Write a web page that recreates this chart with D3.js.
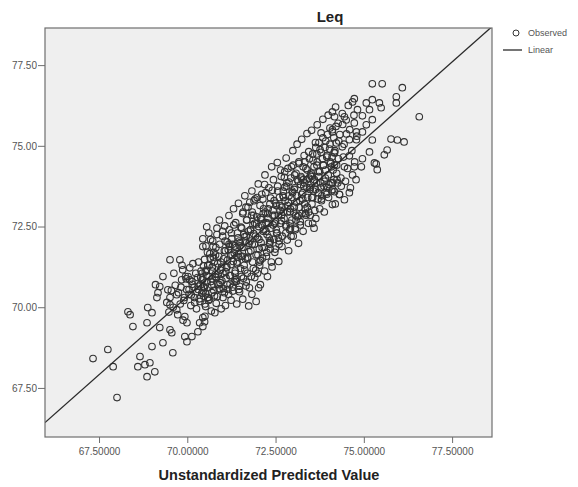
<!DOCTYPE html>
<html>
<head>
<meta charset="utf-8">
<script src="https://cdn.jsdelivr.net/npm/d3@7"></script>
<style>
  body { margin: 0; background: #fff; }
  text { font-family: "Liberation Sans", Arial, sans-serif; }
</style>
</head>
<body>
<div id="chart"></div>
<script>
// values, by zones of the point cloud
var predicted = [
  // lower left, sparse
  68.01, 67.33, 67.75, 67.90, 68.60, 68.80, 68.94, 68.86, 69.08, 68.66,
  69.00, 69.31, 69.59, 68.32, 68.38, 68.88, 69.00, 68.46, 68.86, 69.22,
  69.51, 69.56, 69.93, 70.13, 70.30, 69.99, 69.99, 70.35, 70.44, 69.73,
  69.93, 69.51, 69.22, 69.17, 69.45, 69.14, 69.51, 69.70, 70.55, 70.44,
  69.51, 69.79, 69.31, 69.10, 69.87, 70.07, 70.78, 70.49, 70.44,
  69.82, 69.90, 69.97, 70.05, 70.10, 70.14, 70.20, 70.26, 70.31, 70.36,
  70.42, 70.47, 70.52, 70.58, 70.63,
  70.70, 70.82, 70.90, 71.01, 71.08, 71.15, 71.24, 71.33, 71.40, 71.48,
  71.57, 71.66, 71.74, 71.83, 71.95, 72.02,
  // upper right
  74.17, 74.45, 74.73, 74.93, 75.30, 75.38, 74.11, 74.17, 74.31, 74.45,
  74.11, 74.59,
  75.24, 75.52, 76.09, 75.92, 74.73, 74.68, 75.07, 75.24, 75.44, 75.92,
  74.82, 75.16, 75.49, 76.57, 74.17, 74.45, 74.96, 75.24, 74.73, 74.40,
  75.07, 74.11, 74.51, 74.79, 74.96, 75.24, 75.77, 75.95, 76.14, 75.16,
  75.66, 75.58, 75.35, 74.96, 74.59, 74.22, 74.39, 74.17, 74.59, 74.79,
  // dense band
  70.42, 70.44, 70.46, 70.49, 70.50, 70.53, 70.55, 70.58, 70.60, 70.61,
  70.64, 70.67, 70.68, 70.71, 70.72, 70.75, 70.76, 70.79,
  70.81, 70.84, 70.85, 70.88, 70.89, 70.91, 70.93, 70.96, 70.97, 71.00,
  71.02, 71.05, 71.06, 71.09, 71.10, 71.13, 71.14, 71.17, 71.18, 71.20,
  71.21, 71.24, 71.25, 71.28, 71.29, 71.31, 71.33, 71.36, 71.37, 71.40,
  71.41, 71.44, 71.45, 71.48, 71.49, 71.52, 71.53, 71.56, 71.57, 71.60,
  71.61, 71.63, 71.64, 71.67, 71.68, 71.71, 71.72, 71.75, 71.76, 71.79,
  71.80, 71.83, 71.84, 71.87, 71.88, 71.91, 71.92, 71.95, 71.96, 71.99,
  72.01, 72.03, 72.04, 72.07, 72.08, 72.11, 72.12, 72.15, 72.16, 72.19,
  72.20, 72.23, 72.24, 72.27, 72.28, 72.31, 72.32, 72.35, 72.36, 72.39,
  72.40, 72.43, 72.44, 72.47, 72.48, 72.51, 72.52, 72.55, 72.56, 72.59,
  72.60, 72.63, 72.64, 72.67, 72.68, 72.71, 72.72, 72.75, 72.76, 72.79,
  72.80, 72.83, 72.84, 72.87, 72.88, 72.91, 72.92, 72.95, 72.96, 72.99,
  73.00, 73.03, 73.04, 73.07, 73.08, 73.11, 73.12, 73.15, 73.16, 73.19,
  73.20, 73.23, 73.24, 73.27, 73.28, 73.31, 73.32, 73.35, 73.36, 73.39,
  73.40, 73.43, 73.44, 73.47, 73.48, 73.51, 73.52, 73.55, 73.56, 73.59,
  73.60, 73.63, 73.64, 73.67, 73.68, 73.71, 73.72, 73.75, 73.76, 73.79,
  73.80, 73.83, 73.84, 73.87, 73.88, 73.91, 73.92, 73.95, 73.96, 73.99,
  74.00, 74.03, 74.04, 74.07, 74.08, 74.11, 74.12, 74.15, 74.16, 74.19,
  74.20, 74.23, 74.24, 74.27, 74.28, 74.31, 74.32, 74.35, 74.36, 74.39,
  74.42, 74.44, 74.48, 74.50, 74.54, 74.56, 74.60, 74.62, 74.66, 74.68,
  74.72, 74.74, 74.78, 74.80,
  // dense core
  70.02, 70.05, 70.07, 70.11, 70.13, 70.16, 70.19, 70.21, 70.24, 70.27,
  70.29, 70.32, 70.34, 70.37, 70.39, 70.41, 70.43, 70.46, 70.48, 70.50,
  70.52, 70.54, 70.57, 70.59, 70.62, 70.65, 70.66, 70.69, 70.71, 70.73,
  70.77, 70.80, 70.82, 70.84, 70.86, 70.90, 70.92, 70.94, 70.98, 71.00,
  71.03, 71.05, 71.07, 71.11, 71.13, 71.16, 71.19, 71.22, 71.23, 71.26,
  71.28, 71.30, 71.32, 71.35, 71.38, 71.39, 71.42, 71.44, 71.46, 71.50,
  71.51, 71.54, 71.55, 71.58, 71.59, 71.62, 71.65, 71.66, 71.69, 71.70,
  71.73, 71.74, 71.77, 71.78, 71.81, 71.82, 71.85, 71.86, 71.89, 71.90,
  71.93, 71.94, 71.97, 71.98, 72.00, 72.02, 72.05, 72.06, 72.09, 72.10,
  72.13, 72.14, 72.17, 72.18, 72.21, 72.22, 72.25, 72.26, 72.29, 72.30,
  72.33, 72.34, 72.37, 72.38, 72.41, 72.42, 72.45, 72.46, 72.49, 72.50,
  72.52, 72.53, 72.56, 72.58, 72.60, 72.61, 72.64, 72.66, 72.68, 72.69,
  72.72, 72.74, 72.76, 72.77, 72.80, 72.82, 72.84, 72.85, 72.88, 72.90,
  72.92, 72.93, 72.96, 72.98, 73.00, 73.01, 73.04, 73.06, 73.08, 73.09,
  73.12, 73.14, 73.16, 73.17, 73.20, 73.22, 73.24, 73.25, 73.28, 73.30,
  73.32, 73.33, 73.36, 73.38, 73.40, 73.41, 73.44, 73.46, 73.48, 73.49,
  73.51, 73.53, 73.55, 73.57, 73.59, 73.61, 73.64, 73.66, 73.68, 73.70,
  73.73, 73.75, 73.77, 73.79, 73.81, 73.84, 73.86, 73.88, 73.90, 73.93,
  73.95, 73.97, 73.99, 74.01, 74.04, 74.06, 74.09, 74.11, 74.13, 74.15,
  74.18, 74.21, 74.23, 74.26, 74.29,
  69.42, 69.48, 69.55, 69.60, 69.66, 69.70, 69.75, 69.80, 69.84, 69.88,
  69.92, 69.95, 69.98, 69.62, 69.85,
  70.31, 70.38, 70.45, 70.51, 70.56, 70.63, 70.70, 70.74, 70.79, 70.87,
  70.95, 71.01, 71.08, 71.12, 71.20, 71.27, 71.34, 71.41, 71.47, 71.52,
  71.60, 71.67, 71.71, 71.79, 71.84, 71.91, 71.99, 72.04, 72.11, 72.15,
  72.23, 72.29, 72.35, 72.43, 72.47, 72.54, 72.62, 72.67, 72.73, 72.79,
  72.86, 72.91, 72.97, 73.03, 73.10, 73.15, 73.21, 73.27, 73.34, 73.39,
  73.45, 73.52, 73.58, 73.63, 73.71, 73.78, 73.85, 73.91, 73.98, 74.05,
  70.58, 70.93, 71.18, 71.36, 71.63, 71.88, 72.07, 72.33, 72.58, 72.81,
  73.06, 73.29, 73.55, 73.80, 74.10, 70.75, 71.45, 72.19, 72.94, 73.67
];
var observed = [
  67.20, 68.41, 68.69, 68.16, 68.16, 68.22, 68.28, 67.85, 68.00, 68.47,
  68.78, 68.90, 68.59, 69.86, 69.77, 69.99, 69.83, 69.40, 69.52, 69.37,
  69.30, 69.21, 69.09, 69.09, 69.24, 68.93, 69.52, 69.52, 69.68, 69.77,
  69.71, 70.08, 70.64, 70.45, 70.54, 70.30, 70.30, 70.39, 72.49, 71.88,
  71.47, 71.47, 70.95, 70.70, 71.16, 70.85, 69.83, 69.55, 69.40,
  70.62, 70.21, 70.88, 70.40, 70.05, 70.71, 70.30, 69.95, 70.55, 70.18,
  70.86, 70.34, 70.02, 70.62, 70.25,
  70.45, 70.12, 70.70, 70.30, 70.05, 70.55, 70.22, 70.78, 70.10, 70.48,
  70.25, 70.66, 70.04, 70.40, 70.18, 70.60,
  74.41, 74.35, 74.35, 74.35, 74.47, 74.26, 73.86, 73.58, 73.49, 73.33,
  73.18, 73.55,
  76.92, 76.92, 76.80, 76.52, 76.46, 76.36, 76.33, 76.43, 76.33, 76.33,
  76.12, 76.12, 76.18, 75.90, 75.90, 75.90, 75.93, 75.81, 75.71, 75.66,
  75.65, 75.43, 75.37, 75.43, 75.43, 75.18, 75.21, 75.18, 75.12, 74.81,
  74.87, 74.72, 74.44, 74.60, 74.69, 75.09, 74.97, 74.78, 75.19, 75.19,
  71.05, 72.12, 70.64, 71.48, 69.72, 71.90, 70.98, 71.30, 70.21, 72.30,
  71.66, 70.80, 69.88, 71.12, 72.05, 70.52, 71.40, 70.95,
  71.85, 72.45, 70.33, 71.02, 71.58, 72.70, 70.76, 69.95, 71.24, 72.20,
  70.58, 71.75, 72.52, 71.10, 70.90, 72.02, 71.46, 70.40, 72.84, 71.88,
  70.72, 71.32, 72.30, 71.95, 70.50, 73.05, 71.68, 71.12, 72.62, 70.88,
  71.40, 72.15, 73.22, 70.65, 71.90, 72.48, 70.95, 71.58, 72.90, 72.25,
  71.30, 73.45, 72.05, 70.78, 72.70, 71.55, 73.10, 71.98, 70.60, 72.40,
  71.75, 73.60, 72.95, 71.20, 72.28, 70.92, 73.35, 71.62, 72.58, 71.05,
  73.82, 72.10, 71.40, 70.70, 72.78, 73.50, 71.85, 72.35, 73.05, 71.12,
  74.10, 72.62, 71.58, 70.95, 72.90, 73.70, 72.15, 71.80, 73.38, 74.35,
  71.25, 72.55, 73.95, 72.85, 71.70, 73.22, 72.40, 74.48, 73.60, 71.42,
  72.05, 73.00, 74.25, 72.68, 71.88, 73.45, 72.95, 74.02, 73.72, 72.30,
  74.62, 72.08, 73.15, 71.75, 73.88, 72.60, 72.45, 74.35, 73.40, 74.85,
  72.20, 73.65, 74.10, 72.85, 72.70, 75.05, 73.95, 71.98, 74.50, 73.30,
  72.55, 74.00, 75.20, 73.55, 72.35, 74.70, 73.85, 72.90, 74.30, 75.38,
  73.10, 72.60, 74.82, 73.70, 72.85, 74.15, 75.48, 73.40, 74.55, 72.45,
  73.95, 75.10, 72.75, 74.40, 75.65, 73.55, 74.05, 73.05, 74.88, 75.40,
  73.30, 74.60, 75.82, 73.75, 72.95, 74.25, 75.15, 73.50, 74.70, 75.95,
  73.40, 74.90, 75.55, 73.85, 74.35, 76.05, 73.65, 75.25, 74.80, 73.20,
  76.20, 74.15, 73.95, 75.70, 74.60, 73.50, 75.35, 74.00, 73.75, 76.00,
  74.65, 75.05, 73.90, 75.80, 74.30, 76.25, 75.50, 73.70, 74.85, 74.10,
  75.95, 74.50, 73.95, 75.30,
  70.95, 70.55, 71.22, 70.38, 70.80, 71.35, 70.62, 70.15, 71.05, 70.48,
  70.92, 71.40, 70.26, 70.70, 71.12, 70.44, 70.85, 71.28, 70.60, 70.10,
  70.42, 71.15, 71.70, 70.30, 70.95, 71.52, 72.10, 70.68, 71.25, 71.88,
  70.35, 71.62, 70.92, 72.25, 71.35, 70.58, 71.95, 71.15, 70.82, 72.35,
  71.50, 70.45, 72.05, 71.22, 70.70, 71.78, 72.40, 70.98, 71.60, 72.12,
  70.62, 71.42, 72.55, 71.05, 71.85, 70.80, 72.30, 71.55, 70.55, 72.00,
  71.20, 72.45, 71.85, 72.95, 70.90, 72.18, 71.50, 73.10, 72.70, 71.05,
  72.35, 71.72, 73.25, 72.05, 70.95, 72.85, 71.40, 72.55, 73.30, 71.95,
  72.20, 71.15, 72.80, 73.40, 71.62, 72.50, 71.30, 73.15, 72.00, 72.72,
  71.52, 73.35, 72.40, 71.85, 72.95, 73.55, 71.70, 72.25, 73.05, 72.60,
  71.95, 73.20, 72.45, 71.40, 73.62, 72.85, 72.10, 73.30, 71.80, 72.65,
  73.15, 72.30, 73.75, 72.85, 71.95, 73.40, 72.60, 74.05, 73.10, 72.20,
  73.60, 72.75, 74.20, 73.30, 72.50, 73.85, 72.95, 74.30, 73.45, 72.40,
  73.05, 74.00, 72.70, 73.55, 74.40, 72.95, 73.70, 72.45, 74.15, 73.25,
  72.80, 73.90, 74.45, 73.10, 72.65, 74.05, 73.50, 72.90, 74.35, 73.75,
  73.20, 74.50, 72.85, 73.95, 74.25, 73.40, 72.95, 74.60, 73.65, 74.10,
  74.05, 73.20, 74.75, 73.60, 74.35, 73.00, 74.95, 73.85, 74.50, 73.35,
  75.10, 74.20, 73.70, 74.80, 73.45, 75.25, 74.40, 73.90, 74.95, 73.55,
  74.65, 75.35, 74.10, 73.80, 75.05, 74.45, 73.60, 75.50, 74.25, 73.95,
  74.85, 75.60, 74.40, 73.85, 75.15,
  70.15, 69.85, 70.52, 70.00, 70.68, 69.92, 70.45, 70.10, 70.85, 69.60,
  70.30, 70.95, 70.55, 71.05, 71.30,
  70.65, 70.92, 70.50, 71.10, 70.78, 71.30, 70.88, 71.55, 71.02, 70.72,
  71.40, 71.05, 71.75, 71.25, 70.98, 71.62, 71.90, 71.35, 72.05, 71.58,
  71.85, 72.20, 71.50, 72.40, 71.95, 72.60, 72.15, 71.80, 72.55, 72.90,
  72.35, 72.75, 72.05, 73.00, 72.60, 72.30, 73.15, 72.85, 73.40, 72.55,
  73.25, 72.95, 73.60, 73.10, 73.45, 72.85, 73.80, 73.35, 73.05, 73.70,
  74.00, 73.40, 73.90, 73.65, 74.20, 73.85, 74.40, 74.00, 73.70, 74.50,
  70.30, 70.55, 71.95, 70.85, 71.15, 72.85, 71.45, 72.00, 72.15, 73.75,
  72.40, 73.95, 72.60, 73.35, 74.65, 71.70, 71.65, 73.80, 72.20, 74.75
];
var xTicks = [67.5, 70, 72.5, 75, 77.5];
var yTicks = [67.5, 70, 72.5, 75, 77.5];
var fitLine = {intercept: 2.5, slope: 0.969};   // "Linear"

var width = 578, height = 487;
var plot = {left: 45, right: 492, top: 28, bottom: 437};

var svg = d3.select("#chart").append("svg")
    .attr("width", width)
    .attr("height", height);

var x = d3.scaleLinear().domain([65.97, 78.63]).range([plot.left, plot.right]);
var y = d3.scaleLinear().domain([65.98, 78.65]).range([plot.bottom, plot.top]);

// plot background
svg.append("rect")
    .attr("x", plot.left).attr("y", plot.top)
    .attr("width", plot.right - plot.left)
    .attr("height", plot.bottom - plot.top)
    .attr("fill", "#efefef");

svg.append("clipPath").attr("id", "clip")
  .append("rect")
    .attr("x", plot.left).attr("y", plot.top)
    .attr("width", plot.right - plot.left)
    .attr("height", plot.bottom - plot.top);

var data = predicted.map(function(p, i) { return {p: p, o: observed[i]}; });

// points
svg.append("g").attr("clip-path", "url(#clip)")
  .selectAll("circle")
    .data(data)
    .enter().append("circle")
    .attr("cx", function(d) { return x(d.p); })
    .attr("cy", function(d) { return y(d.o); })
    .attr("r", 3.3)
    .attr("fill", "none")
    .attr("stroke", "#333")
    .attr("stroke-width", 1.1);

// fitted line
var xd = x.domain();
svg.append("line").attr("clip-path", "url(#clip)")
    .attr("x1", x(xd[0])).attr("y1", y(fitLine.intercept + fitLine.slope * xd[0]))
    .attr("x2", x(xd[1])).attr("y2", y(fitLine.intercept + fitLine.slope * xd[1]))
    .attr("stroke", "#2a2a2a")
    .attr("stroke-width", 1.3);

// frame
svg.append("rect")
    .attr("x", plot.left).attr("y", plot.top)
    .attr("width", plot.right - plot.left)
    .attr("height", plot.bottom - plot.top)
    .attr("fill", "none")
    .attr("stroke", "#6e6e6e")
    .attr("stroke-width", 1.2);

// axes
var xAxis = svg.append("g")
    .attr("transform", "translate(0," + plot.bottom + ")")
    .call(d3.axisBottom(x).tickValues(xTicks).tickFormat(d3.format(".5f"))
        .tickSize(6).tickPadding(5));
var yAxis = svg.append("g")
    .attr("transform", "translate(" + plot.left + ",0)")
    .call(d3.axisLeft(y).tickValues(yTicks).tickFormat(d3.format(".2f"))
        .tickSize(7).tickPadding(1));
[xAxis, yAxis].forEach(function(a) {
  a.select(".domain").remove();
  a.selectAll(".tick line").attr("stroke", "#6e6e6e");
  a.selectAll(".tick text").attr("fill", "#555").style("font-size", "10px")
      .style("font-family", "'Liberation Sans', Arial, sans-serif");
});

// title and axis title
svg.append("text")
    .attr("x", 330).attr("y", 22)
    .attr("text-anchor", "middle")
    .style("font-size", "15px").style("font-weight", "bold")
    .attr("fill", "#222")
    .text("Leq");
svg.append("text")
    .attr("x", 269).attr("y", 480)
    .attr("text-anchor", "middle")
    .style("font-size", "14.5px").style("font-weight", "bold")
    .attr("fill", "#222")
    .text("Unstandardized Predicted Value");

// legend
var legend = svg.append("g");
legend.append("circle")
    .attr("cx", 516).attr("cy", 33).attr("r", 3)
    .attr("fill", "none").attr("stroke", "#333").attr("stroke-width", 1);
legend.append("text")
    .attr("x", 528).attr("y", 36)
    .style("font-size", "9px").attr("fill", "#555")
    .text("Observed");
legend.append("line")
    .attr("x1", 503).attr("x2", 522).attr("y1", 50).attr("y2", 50)
    .attr("stroke", "#2a2a2a").attr("stroke-width", 1.3);
legend.append("text")
    .attr("x", 528).attr("y", 53)
    .style("font-size", "9px").attr("fill", "#555")
    .text("Linear");
</script>
</body>
</html>
